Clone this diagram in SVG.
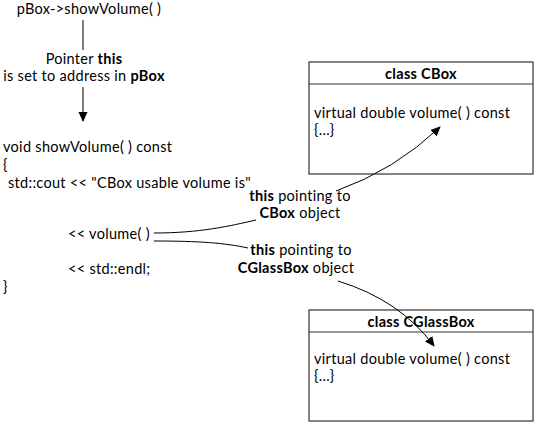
<svg xmlns="http://www.w3.org/2000/svg" width="536" height="424" viewBox="0 0 536 424">
<style>
text{font-family:Lato,"Noto Sans",sans-serif;font-size:14.5px;letter-spacing:0.3px;fill:#000}
.b{font-weight:bold}
.c{text-anchor:middle}
.box{fill:#fff;stroke:#333;stroke-width:1.2}
.ln{fill:none;stroke:#000;stroke-width:1}
</style>
<defs>
<marker id="ah" markerWidth="10" markerHeight="10" refX="9" refY="5" orient="auto" markerUnits="userSpaceOnUse" viewBox="0 0 10 10">
<path d="M0,0.5 L10,5 L0,9.5 Z" fill="#000"/>
</marker>
</defs>
<g id="call">
<text x="89" y="14" class="c">pBox-&gt;showVolume( )</text>
</g>
<g id="pointer-label">
<text x="84" y="64" class="c">Pointer <tspan class="b">this</tspan></text>
<text x="84" y="81" class="c">is set to address in <tspan class="b">pBox</tspan></text>
</g>
<g id="code">
<text x="3" y="152">void showVolume( ) const</text>
<text x="3" y="170">{</text>
<text x="8" y="188">std::cout &lt;&lt; "CBox usable volume is"</text>
<text x="68" y="239">&lt;&lt; volume( )</text>
<text x="68" y="274">&lt;&lt; std::endl;</text>
<text x="3" y="292">}</text>
</g>
<g id="label-cbox">
<text x="300" y="201" class="c"><tspan class="b">this</tspan> pointing to</text>
<text x="300" y="218" class="c"><tspan class="b">CBox</tspan> object</text>
</g>
<g id="label-cglassbox">
<text x="301" y="255" class="c"><tspan class="b">this</tspan> pointing to</text>
<text x="296" y="273" class="c"><tspan class="b">CGlassBox</tspan> object</text>
</g>
<g id="class-cbox">
<rect x="309" y="62" width="224" height="112" class="box"/>
<line x1="309" y1="84" x2="533" y2="84" class="box"/>
<text x="421" y="79" class="c b">class CBox</text>
<text x="314" y="118">virtual double volume( ) const</text>
<text x="314" y="135">{…}</text>
</g>
<g id="class-cglassbox">
<rect x="309" y="310" width="224" height="111" class="box"/>
<line x1="309" y1="332" x2="533" y2="332" class="box"/>
<text x="421" y="327" class="c b">class CGlassBox</text>
<text x="314" y="364">virtual double volume( ) const</text>
<text x="314" y="381">{…}</text>
</g>
<g id="connectors">
<line x1="83" y1="20" x2="83" y2="50" class="ln"/>
<line x1="83" y1="87" x2="83" y2="121" class="ln" marker-end="url(#ah)"/>
<path d="M154,233 C200,233 230,226 256,220" class="ln"/>
<path d="M154,241 C200,241 225,243 248,248" class="ln"/>
<path d="M336,191 Q395,170 440,127" class="ln" marker-end="url(#ah)"/>
<path d="M338,281 Q400,300 434,346" class="ln" marker-end="url(#ah)"/>
</g>
</svg>
